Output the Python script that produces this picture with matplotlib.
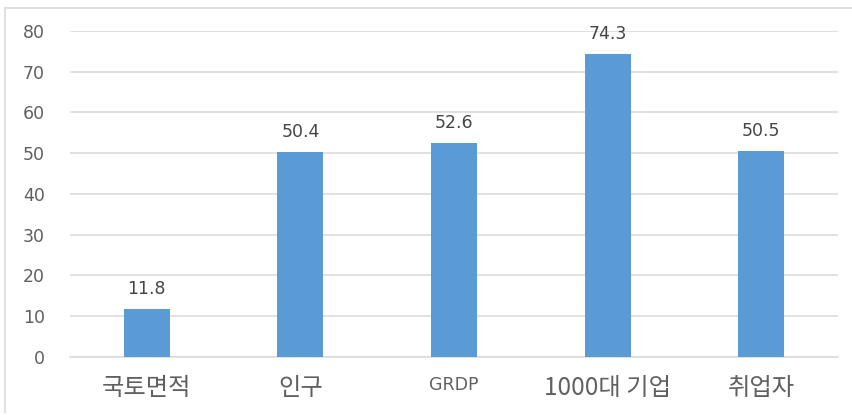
import matplotlib
matplotlib.use("Agg")
import matplotlib.pyplot as plt
from matplotlib.lines import Line2D

plt.rcParams['font.family'] = ['Noto Sans CJK KR', 'DejaVu Sans']

categories = ["국토면적", "인구", "GRDP", "1000대 기업", "취업자"]
values = [11.8, 50.4, 52.6, 74.3, 50.5]
yticks = [0, 10, 20, 30, 40, 50, 60, 70, 80]

bar_color = "#5B9BD5"
grid_color = "#DCDCDC"
text_color = "#606060"

fig = plt.figure(figsize=(8.52, 4.15), dpi=100)
ax = fig.add_axes([0.0822, 0.1398, 0.9014, 0.7855])

x = list(range(len(categories)))
ax.bar(x, values, width=0.3, color=bar_color, zorder=3)

for xi, v in zip(x, values):
    ax.annotate(f"{v:.1f}", (xi, v), xytext=(0, 8), textcoords="offset points",
                ha="center", va="bottom", fontsize=12.5, color="#454545",
                family="DejaVu Sans")

ax.set_xlim(-0.5, len(categories) - 0.5)
ax.set_ylim(0, 80)
ax.set_yticks(yticks)
ax.set_yticklabels([str(t) for t in yticks], fontsize=12.5, color=text_color,
                   family="DejaVu Sans")
ax.set_xticks(x)
ax.set_xticklabels(categories, color=text_color, va="top")
for lbl, cat in zip(ax.get_xticklabels(), categories):
    if cat == "GRDP":
        lbl.set_fontsize(12.5)
        lbl.set_family("DejaVu Sans")
        lbl.set_y(lbl.get_position()[1] - 0.004)
    else:
        lbl.set_fontsize(17.5)

ax.yaxis.grid(True, color=grid_color, linewidth=1.2, zorder=0)
ax.set_axisbelow(True)
for s in ax.spines.values():
    s.set_visible(False)
ax.spines['bottom'].set_visible(True)
ax.spines['bottom'].set_color(grid_color)
ax.spines['bottom'].set_linewidth(1.2)
ax.tick_params(axis='both', length=0)
ax.tick_params(axis='y', pad=18)
ax.tick_params(axis='x', pad=13)

# outer frame: left and top edges
fig.add_artist(Line2D([5 / 852, 5 / 852], [3 / 415, 407 / 415], color="#E0E0E0", lw=1.5,
                      transform=fig.transFigure))
fig.add_artist(Line2D([5 / 852, 1.0], [407 / 415, 407 / 415], color="#E0E0E0", lw=1.5,
                      transform=fig.transFigure))

fig.savefig("out.png", dpi=100)
